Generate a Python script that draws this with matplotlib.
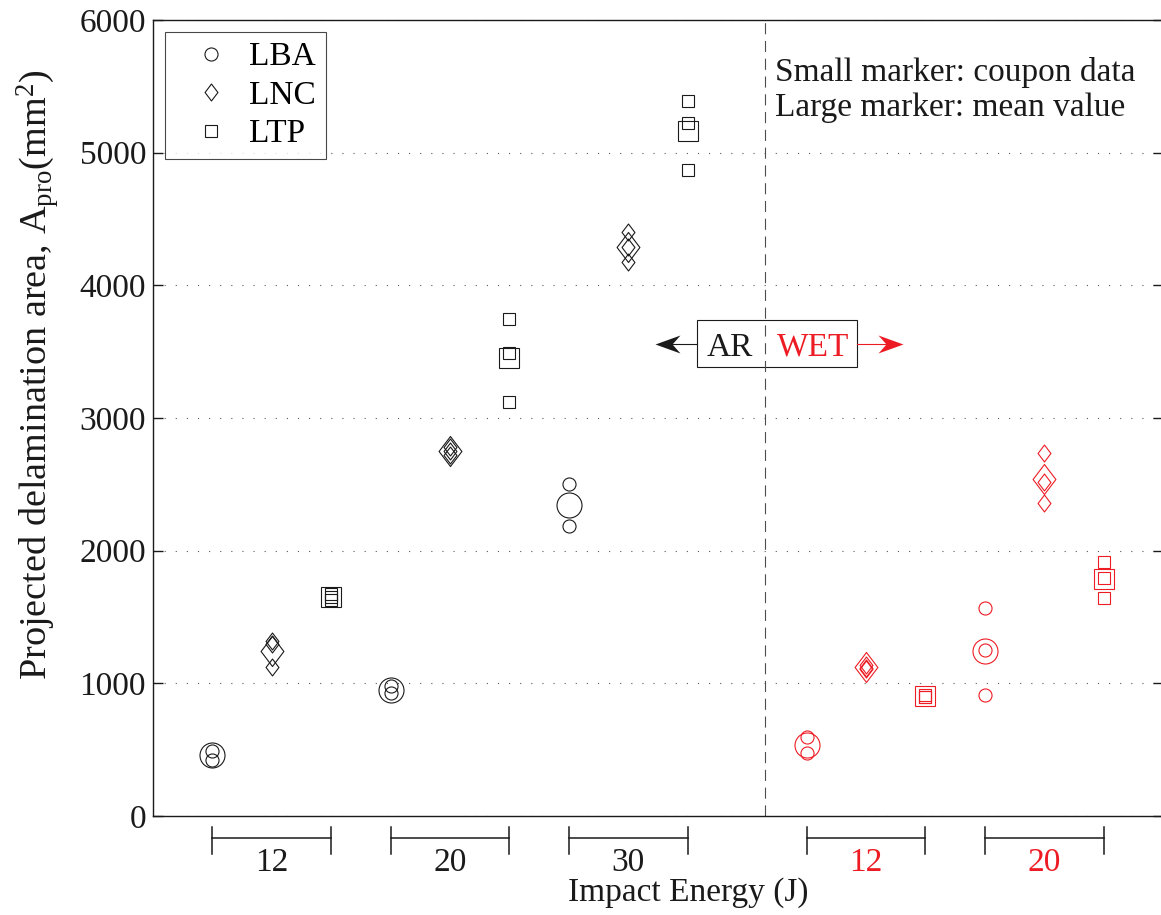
import numpy as np
import matplotlib
matplotlib.use("Agg")
import matplotlib.pyplot as plt
import matplotlib.transforms as mtransforms
from matplotlib.lines import Line2D
from matplotlib.patches import Rectangle
from matplotlib.path import Path

plt.rcParams['font.family'] = ['Liberation Serif', 'DejaVu Serif']
plt.rcParams['mathtext.fontset'] = 'custom'
plt.rcParams['mathtext.rm'] = 'Liberation Serif'
plt.rcParams['mathtext.it'] = 'Liberation Serif:italic'

# impact groups: condition + energy
conditions = ['AR', 'AR', 'AR', 'WET', 'WET']
energy_labels = ['12', '20', '30', '12', '20']
materials = ['LBA', 'LNC', 'LTP']

# coupon data, projected delamination area (mm^2)
lba_coupons = [[490, 425], [980, 925], [2500, 2185], [595, 475], [1565, 1255, 910]]
lnc_coupons = [[1320, 1300, 1120], [2780, 2750, 2720], [4400, 4290, 4175],
               [1140, 1115, 1110], [2735, 2515, 2360]]
ltp_coupons = [[1670, 1650, 1630], [3745, 3490, 3120], [5390, 5220, 4870],
               [910, 900, 895], [1915, 1795, 1645]]

RED = '#ED1C24'
INK = '#1a1a1a'
cond_color = {'AR': INK, 'WET': RED}

diamond = Path([(0, 1), (0.76, 0), (0, -1), (-0.76, 0), (0, 1)],
               [Path.MOVETO, Path.LINETO, Path.LINETO, Path.LINETO, Path.CLOSEPOLY])
marker_style = {'LBA': ('o', 9.4, 18), 'LNC': (diamond, 12.2, 21.6), 'LTP': ('s', 8, 14.4)}

# swept-back arrow heads, tip at the origin
head_right = Path([(0, 0), (-25, 9), (-17, 0), (-25, -9), (0, 0)],
                  [Path.MOVETO, Path.LINETO, Path.LINETO, Path.LINETO, Path.CLOSEPOLY])
head_left = Path([(0, 0), (25, 9), (17, 0), (25, -9), (0, 0)],
                 [Path.MOVETO, Path.LINETO, Path.LINETO, Path.LINETO, Path.CLOSEPOLY])

fig = plt.figure(figsize=(11.61, 9.15), dpi=100)
ax = fig.add_axes([153 / 1161, 1 - 816 / 915, 1010 / 1161, 796 / 915])

# x position of the first material in each group
group_start = [1, 4, 7, 11, 14]
divider_x = 10.3

all_data = [lba_coupons, lnc_coupons, ltp_coupons]
for g, cond in enumerate(conditions):
    col = cond_color[cond]
    for m, mat in enumerate(materials):
        vals = np.array(all_data[m][g])
        x = group_start[g] + m
        mk, small, large = marker_style[mat]
        ax.plot(np.full(len(vals), x), vals, linestyle='none', marker=mk, ms=small,
                mfc='none', mec=col, mew=0.8)
        ax.plot([x], [vals.mean()], linestyle='none', marker=mk, ms=large,
                mfc='none', mec=col, mew=0.8)

ax.set_xlim(0, 17)
ax.set_ylim(0, 6000)
ax.set_yticks(np.arange(0, 6001, 1000))
ax.set_xticks([])
ax.tick_params(axis='y', direction='in', length=7, width=1.0, pad=5,
               labelsize=24, right=True, colors=INK)
for s in ax.spines.values():
    s.set_linewidth(1.0)
    s.set_color(INK)
ax.yaxis.grid(True, linestyle=(0, (1, 9)), linewidth=0.8, color='0.35')
ax.set_axisbelow(True)

ax.axvline(divider_x, color='0.3', linestyle=(0, (10, 6)), linewidth=0.8)

# brackets under the axis
trans = mtransforms.blended_transform_factory(ax.transData, ax.transAxes)
for g, cond in enumerate(conditions):
    x0, x1 = group_start[g], group_start[g] + 2
    ax.plot([x0, x1], [-0.0276, -0.0276], color=INK, lw=1.1, transform=trans, clip_on=False)
    for xx in (x0, x1):
        ax.plot([xx, xx], [-0.0138, -0.0477], color=INK, lw=1.1, transform=trans, clip_on=False)
    ax.text((x0 + x1) / 2, -0.040, energy_labels[g], transform=trans, ha='center', va='top',
            fontsize=24, color=cond_color[cond])

fig.text(688 / 1161, 1 - 893 / 915, 'Impact Energy (J)', ha='center', va='center',
         fontsize=24, color=INK)
fig.text(38 / 1161, 1 - 375 / 915,
         r'Projected delamination area, A$_{\mathrm{pro}}$(mm$^{2}$)',
         rotation=90, ha='center', va='center', fontsize=27.5, color=INK)

# legend
handles = [Line2D([], [], linestyle='none', marker=marker_style[m][0], ms=marker_style[m][1],
                  mfc='none', mec=INK, mew=0.8) for m in materials]
leg = ax.legend(handles, materials, loc='upper left', bbox_to_anchor=(0.012, 0.985),
                fontsize=24, frameon=True, fancybox=False, edgecolor=INK,
                handlelength=2.15, handletextpad=0.08, borderpad=0.3, labelspacing=0.24,
                borderaxespad=0)
leg.get_frame().set_linewidth(0.8)

ax.text(0.6158, 0.923, 'Small marker: coupon data', transform=ax.transAxes,
        fontsize=24, va='baseline', color=INK)
ax.text(0.6158, 0.879, 'Large marker: mean value', transform=ax.transAxes,
        fontsize=24, va='baseline', color=INK)

# AR / WET box with arrows
ax.add_patch(Rectangle((0.5386, 0.564), 0.1584, 0.059, transform=ax.transAxes,
                       fill=False, ec=INK, lw=0.8))
ax.text(0.5713, 0.578, 'AR', transform=ax.transAxes, ha='center', va='baseline',
        fontsize=24, color=INK)
ax.text(0.654, 0.578, 'WET', transform=ax.transAxes, ha='center', va='baseline',
        fontsize=24, color=RED)
ax.plot([0.5386, 0.505], [0.593, 0.593], color=INK, lw=0.8, transform=ax.transAxes)
ax.plot([0.497], [0.593], marker=head_left, ms=36, color=INK, mew=0, linestyle='none',
        transform=ax.transAxes)
ax.plot([0.697, 0.735], [0.593, 0.593], color=RED, lw=0.8, transform=ax.transAxes)
ax.plot([0.7426], [0.593], marker=head_right, ms=36, color=RED, mew=0, linestyle='none',
        transform=ax.transAxes)

fig.savefig('out.png', dpi=100)
